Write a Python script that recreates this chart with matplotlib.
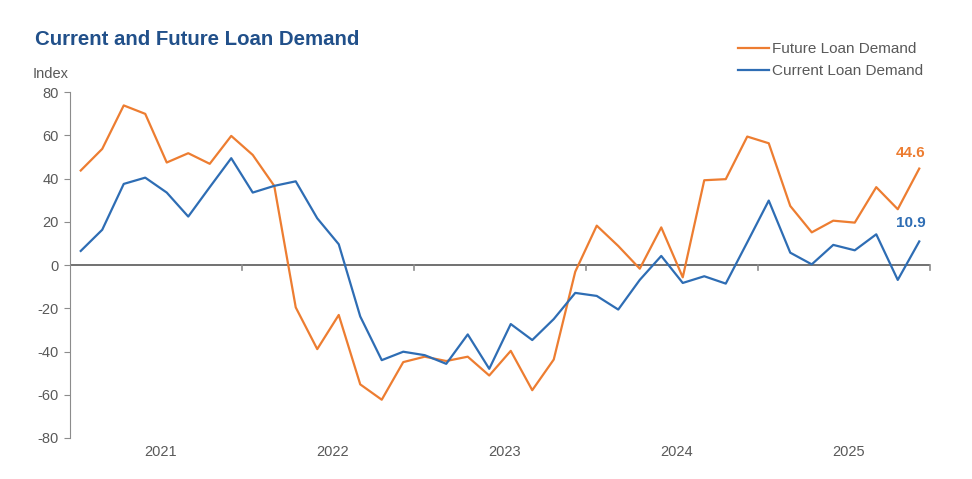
import numpy as np
import matplotlib.pyplot as plt

plt.rcParams['font.family'] = ['Liberation Sans', 'DejaVu Sans']
plt.rcParams['axes.unicode_minus'] = False

years = ['2021', '2022', '2023', '2024', '2025']
per_year = 8

future = [43.7, 53.7, 73.8, 69.9, 47.4, 51.7, 46.8, 59.7,
          50.9, 36.6, -19.6, -38.9, -23.1, -55.2, -62.3, -44.9,
          -42.4, -44.4, -42.4, -51.1, -39.7, -57.9, -43.7, -3.1,
          18.2, 8.8, -1.7, 17.4, -5.7, 39.2, 39.7, 59.4,
          56.3, 27.3, 15.1, 20.5, 19.6, 36.0, 25.8, 44.6]
current = [6.5, 16.3, 37.5, 40.4, 33.5, 22.4, 36.0, 49.4,
           33.5, 36.6, 38.7, 21.6, 9.6, -23.8, -44.0, -40.1,
           -41.7, -45.7, -32.1, -48.0, -27.3, -34.7, -25.0, -12.9,
           -14.3, -20.6, -6.9, 4.2, -8.3, -5.2, -8.6, 10.5,
           29.8, 5.7, 0.3, 9.3, 6.8, 14.2, -6.9, 10.9]

orange = '#ED7D31'
blue = '#2E6DB4'
grey = '#595959'

fig = plt.figure(figsize=(9.72, 4.79), dpi=100)
ax = fig.add_axes([0.072, 0.0856, 0.8848, 0.7223])

x = np.arange(len(future))
ax.plot(x, future, color=orange, lw=1.6, label='Future Loan Demand', zorder=3)
ax.plot(x, current, color=blue, lw=1.6, label='Current Loan Demand', zorder=3)

n = len(years) * per_year
ax.set_xlim(-0.5, n - 0.5)
ax.set_ylim(-80, 80)
ax.set_yticks(np.arange(-80, 81, 20))

# zero line with year separators
ax.axhline(0, color=grey, lw=1.2, zorder=2)
for b in np.arange(per_year, n + 1, per_year) - 0.5:
    ax.plot([b, b], [0, -2.2], color='#8c8c8c', lw=1.2, clip_on=False, zorder=2)
ax.set_xticks([])
for i, yr in enumerate(years):
    ax.text(i * per_year + per_year / 2 - 0.3, -86.5, yr, ha='center', va='center',
            fontsize=10.5, color=grey)

for s in ['top', 'right', 'bottom']:
    ax.spines[s].set_visible(False)
ax.spines['left'].set_color('#8c8c8c')
ax.tick_params(axis='y', colors=grey, labelsize=10.5, length=4, direction='out',
               color='#8c8c8c', pad=4)
ax.tick_params(axis='y', labelcolor=grey)

ax.text(-0.043, 1.051, 'Index', transform=ax.transAxes, ha='left', va='center',
        fontsize=10.5, color=grey)
fig.text(0.036, 0.917, 'Current and Future Loan Demand', fontsize=14.7,
         fontweight='bold', color='#21508A', ha='left', va='center')

ax.annotate(f'{future[-1]:.1f}', (x[-1], future[-1]), xytext=(-6, 11),
            textcoords='offset points', ha='center', va='center',
            fontsize=11, fontweight='bold', color=orange)
ax.annotate(f'{current[-1]:.1f}', (x[-1], current[-1]), xytext=(-6, 13.5),
            textcoords='offset points', ha='center', va='center',
            fontsize=11, fontweight='bold', color=blue)

leg = fig.legend(loc='upper left', bbox_to_anchor=(0.753, 0.925), frameon=False,
                 fontsize=11, handlelength=2.0, handletextpad=0.2,
                 labelspacing=0.55, borderaxespad=0)
for t in leg.get_texts():
    t.set_color(grey)

fig.savefig('out.png', dpi=100)
